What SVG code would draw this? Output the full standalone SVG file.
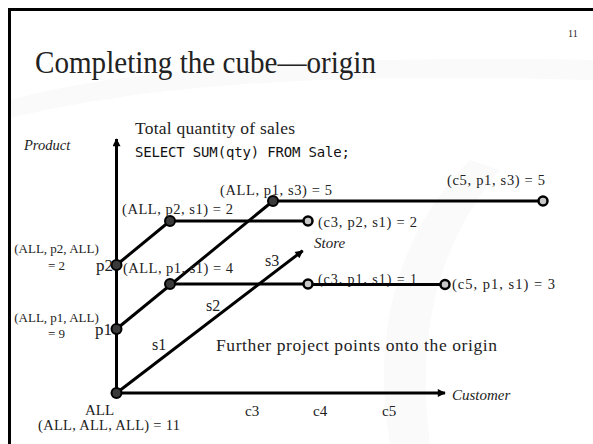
<svg xmlns="http://www.w3.org/2000/svg" width="593" height="444" viewBox="0 0 593 444">
<defs>
<marker id="arr" viewBox="0 0 10 10" refX="9" refY="5" markerWidth="10" markerHeight="8" markerUnits="userSpaceOnUse" orient="auto">
<path d="M0,0 L10,5 L0,10 Z" fill="#000"/>
</marker>
<style>
.ln{stroke:#000;stroke-width:3;fill:none}
.ax{stroke:#000;stroke-width:3;fill:none}
.dot{fill:#3a3a3a;stroke:#000;stroke-width:2}
.open{fill:#c8c8c8;stroke:#000;stroke-width:2.5}
.lb{font-family:"Liberation Serif",serif;fill:#222}
.it{font-family:"Liberation Serif",serif;font-style:italic;fill:#222}
.mono{font-family:"DejaVu Sans Mono","Liberation Mono",monospace;fill:#111}
</style>
</defs>
<rect width="593" height="444" fill="#fff"/>
<g id="background" fill="#fafafa">
<path d="M10,100 C120,70 300,55 593,60 L593,80 C320,72 150,85 10,118 Z"/>
<path d="M390,444 C370,330 400,230 470,160 L500,170 C440,240 415,330 430,444 Z"/>
</g>
<path d="M9.5,444 V9.5 H593" stroke="#000" stroke-width="3" fill="none"/>
<text x="568" y="37" class="lb" font-size="10">11</text>
<text x="35" y="73" class="lb" font-size="32" textLength="341" lengthAdjust="spacingAndGlyphs">Completing the cube—origin</text>
<text x="135" y="134" class="lb" font-size="17.5" textLength="160">Total quantity of sales</text>
<text x="135" y="157" class="mono" font-size="14" textLength="215">SELECT SUM(qty) FROM Sale;</text>

<g id="labels">
<text x="24" y="150" class="it" font-size="14.5">Product</text>
<text x="314" y="248" class="it" font-size="15">Store</text>
<text x="452" y="400" class="it" font-size="15">Customer</text>
<text x="152" y="350" class="lb" font-size="16">s1</text>
<text x="206" y="311" class="lb" font-size="16">s2</text>
<text x="265" y="266" class="lb" font-size="16">s3</text>
<text x="245" y="416" class="lb" font-size="15">c3</text>
<text x="313" y="416" class="lb" font-size="15">c4</text>
<text x="382" y="416" class="lb" font-size="15">c5</text>
<text x="216" y="351" class="lb" font-size="17.5" textLength="281">Further project points onto the origin</text>
<text x="318" y="284" class="lb" font-size="14" textLength="99">(c3, p1, s1) = 1</text>
</g>

<g id="connectors">
<line class="ax" x1="116.5" y1="393" x2="116.5" y2="139" marker-end="url(#arr)"/>
<line class="ax" x1="116.5" y1="393" x2="445" y2="393" marker-end="url(#arr)"/>
<line class="ax" x1="116.5" y1="393" x2="302.7" y2="250.7" marker-end="url(#arr)"/>
<line class="ln" x1="116.5" y1="265" x2="170" y2="221"/>
<line class="ln" x1="116.5" y1="329" x2="273" y2="201"/>
<line class="ln" x1="170" y1="221" x2="308" y2="221"/>
<line class="ln" x1="170" y1="284" x2="308" y2="284"/>
<line class="ln" x1="308" y1="284.5" x2="445" y2="284.5" stroke-width="4"/>
<line class="ln" x1="273" y1="201" x2="543" y2="201"/>
</g>

<g id="node-all">
<circle class="dot" cx="116.5" cy="393" r="5"/>
<text x="85" y="415" class="lb" font-size="15">ALL</text>
<text x="38" y="430" class="lb" font-size="14.5" textLength="142">(ALL, ALL, ALL) = 11</text>
</g>
<g id="node-p1">
<circle class="dot" cx="116.5" cy="329" r="5"/>
<text x="95" y="335" class="lb" font-size="17">p1</text>
<text x="56.5" y="322" class="lb" font-size="13" text-anchor="middle">(ALL, p1, ALL)</text>
<text x="56.5" y="338" class="lb" font-size="13" text-anchor="middle">= 9</text>
</g>
<g id="node-p2">
<circle class="dot" cx="116.5" cy="265" r="5"/>
<text x="96" y="271" class="lb" font-size="17">p2</text>
<text x="56.5" y="253" class="lb" font-size="13" text-anchor="middle">(ALL, p2, ALL)</text>
<text x="56.5" y="270" class="lb" font-size="13" text-anchor="middle">= 2</text>
</g>
<g id="node-all-p2-s1">
<circle class="dot" cx="170" cy="221" r="5"/>
<text x="122" y="214" class="lb" font-size="14.5" textLength="111">(ALL, p2, s1) = 2</text>
</g>
<g id="node-all-p1-s1">
<circle class="dot" cx="170" cy="284" r="5"/>
<text x="123" y="273" class="lb" font-size="14.5" textLength="110">(ALL, p1, s1) = 4</text>
</g>
<g id="node-all-p1-s3">
<circle class="dot" cx="273" cy="201" r="5"/>
<text x="220" y="195" class="lb" font-size="14.5" textLength="112">(ALL, p1, s3) = 5</text>
</g>
<g id="node-c3-p2-s1">
<circle class="open" cx="308" cy="221" r="4.5"/>
<text x="318" y="226.5" class="lb" font-size="14.5" textLength="99">(c3, p2, s1) = 2</text>
</g>
<g id="node-c3-p1-s1">
<circle class="open" cx="308" cy="284" r="4.5"/>
</g>
<g id="node-c5-p1-s1">
<circle class="open" cx="445" cy="284.5" r="4.5"/>
<text x="452" y="288.5" class="lb" font-size="14.5" textLength="103">(c5, p1, s1) = 3</text>
</g>
<g id="node-c5-p1-s3">
<circle class="open" cx="543" cy="201" r="4.5"/>
<text x="447" y="185" class="lb" font-size="14.5" textLength="98">(c5, p1, s3) = 5</text>
</g>
</svg>
